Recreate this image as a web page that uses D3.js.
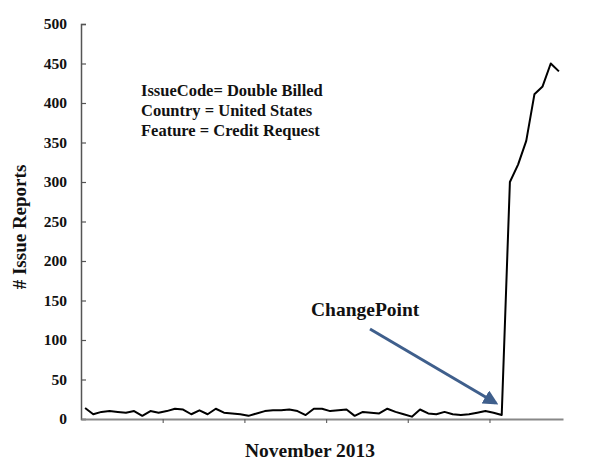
<!DOCTYPE html>
<html>
<head>
<meta charset="utf-8">
<script src="https://cdn.jsdelivr.net/npm/d3@7"></script>
<style>
  body { margin: 0; background: #fff; }
  text { font-family: "Liberation Serif", "Times New Roman", serif; font-weight: bold; fill: #111; }
</style>
</head>
<body>
<div id="chart-container"></div>
<script>
// daily issue report counts, November 2013 window
var reports = [14, 6, 9, 10, 9, 8, 10, 4, 10, 8,
               10, 13, 12, 6, 11, 6, 13, 8, 7, 6,
               4, 7, 10, 11, 11, 12, 10, 5, 13, 13,
               10, 11, 12, 4, 9, 8, 7, 13, 9, 6,
               3, 12, 7, 6, 9, 6, 5, 6, 8, 10,
               8, 5, 300, 322, 352, 411, 421, 450, 440];
var yTicks = [0, 50, 100, 150, 200, 250, 300, 350, 400, 450, 500];
var xTicks = [10, 20, 30, 40, 50];
var infoLines = ["IssueCode= Double Billed", "Country = United States", "Feature = Credit Request"];
var changeIndex = 51;

var width = 610, height = 474;
var margin = {top: 24, right: 47, bottom: 55, left: 81};

var svg = d3.select("#chart-container")
  .append("svg")
    .attr("width", width)
    .attr("height", height);

// x is a day index, points sit in the middle of each day slot
var x = d3.scaleLinear()
    .domain([0, reports.length])
    .range([margin.left, width - margin.right]);

var y = d3.scaleLinear()
    .domain([0, 500])
    .range([height - margin.bottom, margin.top]);

// y axis (ticks pointing inward)
var yAxis = svg.append("g")
    .attr("transform", "translate(" + margin.left + ",0)")
    .call(d3.axisRight(y).tickValues(yTicks).tickSize(5).tickFormat(""));
yAxis.select(".domain").attr("stroke", "#555").attr("stroke-width", 1.5);
yAxis.selectAll(".tick line").attr("stroke", "#555").attr("stroke-width", 1.2);

svg.selectAll(".ylab")
  .data(yTicks)
  .join("text")
    .attr("class", "ylab")
    .attr("x", 67)
    .attr("y", d => y(d) + 5)
    .attr("text-anchor", "end")
    .style("font-size", "15.5px")
    .text(d => d);

// x axis, no labels
var xAxis = svg.append("g")
    .attr("transform", "translate(0," + y(0) + ")")
    .call(d3.axisBottom(x).tickValues(xTicks).tickSize(4).tickSizeOuter(0).tickFormat(""));
xAxis.select(".domain").attr("stroke", "#888").attr("stroke-width", 2);
xAxis.selectAll(".tick line").attr("stroke", "#666").attr("stroke-width", 1.2);

// the series
var line = d3.line()
    .x((d, i) => x(i + 0.5))
    .y(d => y(d));

svg.append("path")
    .datum(reports)
    .attr("fill", "none")
    .attr("stroke", "#000")
    .attr("stroke-width", 2)
    .attr("stroke-linejoin", "round")
    .attr("d", line);

// annotation block
svg.selectAll(".info")
  .data(infoLines)
  .join("text")
    .attr("class", "info")
    .attr("x", 141)
    .attr("y", (d, i) => 96 + i * 20)
    .style("font-size", "16.5px")
    .text(d => d);

// change point arrow
var defs = svg.append("defs");
defs.append("marker")
    .attr("id", "arrowhead")
    .attr("viewBox", "0 0 10 10")
    .attr("refX", 8)
    .attr("refY", 5)
    .attr("markerWidth", 5)
    .attr("markerHeight", 5)
    .attr("orient", "auto")
  .append("path")
    .attr("d", "M0,0 L10,5 L0,10 z")
    .attr("fill", "#3f5f8c");

svg.append("line")
    .attr("x1", 370)
    .attr("y1", 329)
    .attr("x2", x(changeIndex + 0.5) - 6)
    .attr("y2", y(reports[changeIndex]) - 12)
    .attr("stroke", "#3f5f8c")
    .attr("stroke-width", 3)
    .attr("marker-end", "url(#arrowhead)");

svg.append("text")
    .attr("x", 311)
    .attr("y", 316)
    .style("font-size", "19.5px")
    .text("ChangePoint");

// axis titles
svg.append("text")
    .attr("x", 310)
    .attr("y", 457)
    .attr("text-anchor", "middle")
    .style("font-size", "19.5px")
    .text("November 2013");

svg.append("text")
    .attr("transform", "translate(26,227) rotate(-90)")
    .attr("text-anchor", "middle")
    .style("font-size", "19px")
    .text("# Issue Reports");
</script>
</body>
</html>
